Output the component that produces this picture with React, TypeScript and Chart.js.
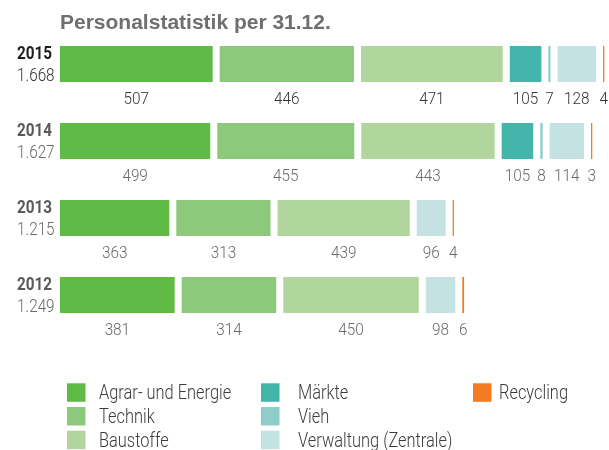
import React, { useEffect, useRef } from "react";
import { Chart, registerables } from "chart.js";

Chart.register(...registerables);

// ---------- data ----------
const TITLE = "Personalstatistik per 31.12.";
const years = ["2015", "2014", "2013", "2012"];
const totalLabels = ["1.668", "1.627", "1.215", "1.249"];
const seriesNames = [
  "Agrar- und Energie",
  "Technik",
  "Baustoffe",
  "Märkte",
  "Vieh",
  "Verwaltung (Zentrale)",
  "Recycling",
];
const agrar = [507, 499, 363, 381];
const technik = [446, 455, 313, 314];
const baustoffe = [471, 443, 439, 450];
const maerkte = [105, 105, 0, 0];
const vieh = [7, 8, 0, 0];
const verwaltung = [128, 114, 96, 98];
const recycling = [4, 3, 4, 6];
const HIGHLIGHT_YEAR = "2015";

// ---------- style ----------
const colors = ["#5fba46", "#8cc97a", "#b0d69e", "#43b5ab", "#8ecdca", "#c3e2e1", "#f47b20"];
const FONT = "Roboto, 'Liberation Sans', sans-serif";
const WIDE = "'Liberation Sans', Arial, Roboto, sans-serif";
const GAP = 7;
const MIN_W = 1.3;

function drawText(ctx: CanvasRenderingContext2D, text: string, x: number, y: number, align: CanvasTextAlign, sx: number) {
  ctx.save();
  ctx.translate(x, y);
  ctx.scale(sx, 1);
  ctx.textAlign = align;
  ctx.fillText(text, 0, 0);
  ctx.restore();
}

const gapPlugin = {
  id: "segmentGaps",
  afterDatasetsUpdate(chart: any) {
    const n = chart.data.labels.length;
    for (let j = 0; j < n; j++) {
      let shift = 0;
      chart.data.datasets.forEach((ds: any, i: number) => {
        const el: any = chart.getDatasetMeta(i).data[j];
        if (!el) return;
        el.x += shift;
        el.base += shift;
        if (ds.data[j]) {
          if (el.x - el.base < MIN_W) el.x = el.base + MIN_W;
          shift += GAP;
        }
      });
    }
  },
};

const textPlugin = {
  id: "texts",
  afterDraw(chart: any) {
    const ctx: CanvasRenderingContext2D = chart.ctx;
    const area = chart.chartArea;
    ctx.save();
    ctx.textBaseline = "alphabetic";
    // title
    ctx.font = `bold 21px ${WIDE}`;
    ctx.fillStyle = "#6e6f71";
    drawText(ctx, TITLE, area.left, 28.5, "left", 1);

    const n = chart.data.labels.length;
    for (let j = 0; j < n; j++) {
      const hl = chart.data.labels[j] === HIGHLIGHT_YEAR;
      const ref: any = chart.getDatasetMeta(0).data[j];
      const top = ref.y - ref.height / 2;
      const bottom = ref.y + ref.height / 2;
      ctx.font = `bold 18px ${FONT}`;
      ctx.fillStyle = hl ? "#1e1e1e" : "#5a5a5a";
      drawText(ctx, chart.data.labels[j], 17, top + 12.5, "left", 0.85);
      ctx.font = `300 18px ${FONT}`;
      ctx.fillStyle = hl ? "#333333" : "#6a6a6a";
      drawText(ctx, totalLabels[j], 17, bottom - 1, "left", 0.85);

      ctx.font = `300 17px ${FONT}`;
      chart.data.datasets.forEach((ds: any, i: number) => {
        const v = ds.data[j];
        if (!v) return;
        const el: any = chart.getDatasetMeta(i).data[j];
        const cx = (el.x + el.base) / 2;
        drawText(ctx, String(v), cx, bottom + 21.5, "center", 0.9);
      });
    }

    // legend
    const boxX = [67, 261, 473];
    const textX = [99, 298, 499];
    ctx.font = `300 20px ${FONT}`;
    chart.data.datasets.forEach((ds: any, i: number) => {
      const col = Math.floor(i / 3);
      const row = i % 3;
      const t = 383.3 + row * 23.7;
      ctx.fillStyle = ds.backgroundColor;
      ctx.fillRect(boxX[col], t, 18.5, 18.5);
      ctx.fillStyle = "#3c3c3c";
      drawText(ctx, ds.label, textX[col], t + 16, "left", 0.82);
    });
    ctx.restore();
  },
};

export default function App() {
  const ref = useRef<HTMLCanvasElement | null>(null);
  useEffect(() => {
    if (!ref.current) return;
    const series = [agrar, technik, baustoffe, maerkte, vieh, verwaltung, recycling];
    const chart = new Chart(ref.current, {
      type: "bar",
      data: {
        labels: years,
        datasets: series.map((d, i) => ({
          label: seriesNames[i],
          data: d,
          backgroundColor: colors[i],
          borderWidth: 0,
          borderSkipped: false,
          clip: false as any,
          barPercentage: 36 / 77,
          categoryPercentage: 1,
        })),
      },
      options: {
        indexAxis: "y",
        animation: false,
        responsive: true,
        maintainAspectRatio: false,
        layout: { padding: { left: 60, right: 7, top: 25.5, bottom: 116.5 } },
        scales: {
          x: { display: false, stacked: true, min: 0, max: 1800 },
          y: { display: false, stacked: true },
        },
        plugins: {
          legend: { display: false },
          title: { display: false },
          tooltip: { enabled: false },
        },
      },
      plugins: [gapPlugin, textPlugin],
    });
    return () => chart.destroy();
  }, []);
  return (
    <div style={{ position: "fixed", left: 0, top: 0, width: 609, height: 450, background: "#fff" }}>
      <canvas ref={ref} />
    </div>
  );
}
